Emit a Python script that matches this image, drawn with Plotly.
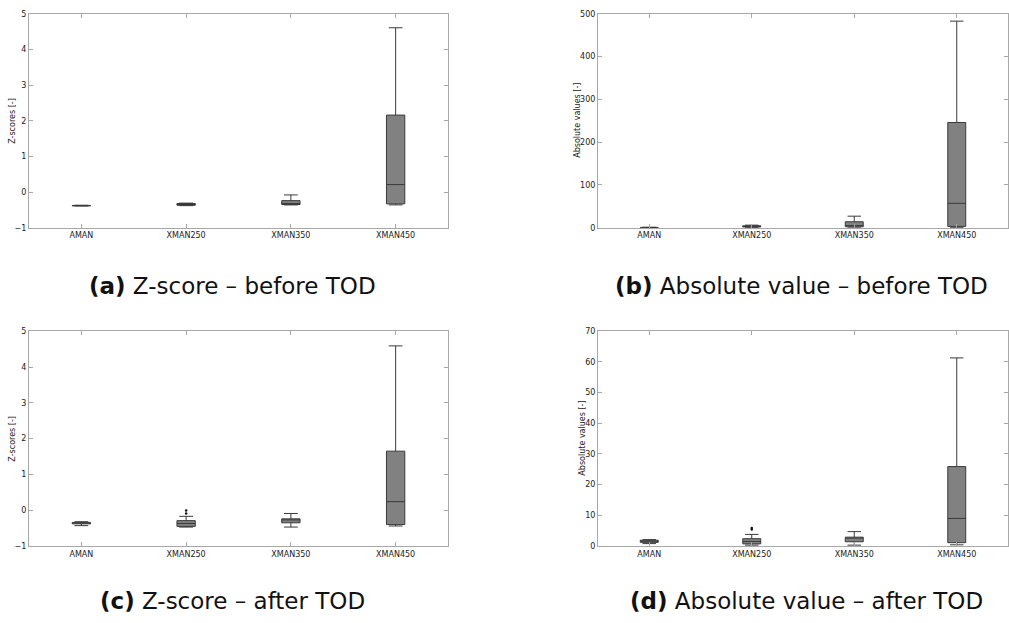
import plotly.graph_objects as go

categories = ["AMAN", "XMAN250", "XMAN350", "XMAN450"]

# (a) Z-score before TOD
a_low = [-0.39, -0.38, -0.36, -0.36]
a_q1 = [-0.385, -0.37, -0.35, -0.33]
a_med = [-0.38, -0.35, -0.33, 0.21]
a_q3 = [-0.375, -0.32, -0.24, 2.16]
a_high = [-0.37, -0.31, -0.08, 4.61]

# (b) Absolute value before TOD
b_low = [0.0, 0.5, 1.0, 0.5]
b_q1 = [0.3, 1.5, 2.0, 3.0]
b_med = [0.5, 3.0, 5.0, 57.0]
b_q3 = [0.8, 4.5, 14.0, 246.0]
b_high = [1.0, 6.0, 27.0, 483.0]

# (c) Z-score after TOD
c_low = [-0.43, -0.47, -0.47, -0.44]
c_q1 = [-0.38, -0.45, -0.35, -0.40]
c_med = [-0.36, -0.37, -0.27, 0.24]
c_q3 = [-0.34, -0.29, -0.24, 1.65]
c_high = [-0.32, -0.17, -0.09, 4.59]
c_out_x = ["XMAN250", "XMAN250"]
c_out_y = [-0.01, -0.09]

# (d) Absolute value after TOD
d_low = [0.8, 0.3, 0.3, 0.4]
d_q1 = [1.2, 0.7, 1.4, 1.1]
d_med = [1.6, 1.5, 2.6, 9.0]
d_q3 = [1.9, 2.4, 2.9, 25.9]
d_high = [2.1, 3.8, 4.7, 61.3]
d_out_x = ["XMAN250", "XMAN250"]
d_out_y = [5.4, 5.9]

captions = ["Z-score – before TOD", "Absolute value – before TOD",
            "Z-score – after TOD", "Absolute value – after TOD"]
letters = ["(a)", "(b)", "(c)", "(d)"]
ytitles = ["Z-scores [-]", "Absolute values [-]", "Z-scores [-]", "Absolute values [-]"]
yranges = [[-1, 5], [0, 500], [-1, 5], [0, 70]]
ydticks = [1, 100, 1, 10]

W, H = 1009, 623
fig = go.Figure()

# pixel boxes of the plot areas: (left, right, top, bottom)
areas = [(29, 448, 10, 227), (598, 1008, 10, 227), (29, 448, 332, 550), (598, 1008, 332, 550)]

data = [
    (a_low, a_q1, a_med, a_q3, a_high, None, None),
    (b_low, b_q1, b_med, b_q3, b_high, None, None),
    (c_low, c_q1, c_med, c_q3, c_high, c_out_x, c_out_y),
    (d_low, d_q1, d_med, d_q3, d_high, d_out_x, d_out_y),
]

tickfont = dict(family="DejaVu Sans", size=8, color="#222222")
frame = "#a8a8a8"

for i, (lo, q1, med, q3, hi, ox, oy) in enumerate(data):
    n = "" if i == 0 else str(i + 1)
    xa, ya = "x" + n, "y" + n
    fig.add_trace(go.Box(
        x=categories, lowerfence=lo, q1=q1, median=med, q3=q3, upperfence=hi,
        xaxis=xa, yaxis=ya, fillcolor="#818181",
        line=dict(color="#3a3a3a", width=1), whiskerwidth=0.75,
        boxpoints=False, showlegend=False, hoverinfo="skip"))
    if ox is not None:
        fig.add_trace(go.Scatter(
            x=ox, y=oy, mode="markers", xaxis=xa, yaxis=ya,
            marker=dict(color="#111111", size=2.5), showlegend=False, hoverinfo="skip"))
    l, r, t, b = areas[i]
    xd = [l / W, r / W]
    yd = [1 - b / H, 1 - t / H]
    fig.layout["xaxis" + n] = dict(
        domain=xd, anchor=ya, type="category", categoryorder="array",
        categoryarray=categories, range=[-0.5, 3.5],
        showgrid=False, zeroline=False, showline=True, linecolor=frame, linewidth=1,
        mirror="ticks", ticks="inside", ticklen=4, tickcolor=frame,
        tickfont=tickfont, fixedrange=True)
    fig.layout["yaxis" + n] = dict(
        domain=yd, anchor=xa, range=yranges[i], dtick=ydticks[i], tick0=0,
        showgrid=False, zeroline=False, showline=True, linecolor=frame, linewidth=1,
        mirror="ticks", ticks="inside", ticklen=4, tickcolor=frame,
        tickfont=tickfont, fixedrange=True)

fig.update_layout(boxgap=0.75)

# y axis titles
ytitle_x = [13, 578, 13, 583]
for i in range(4):
    l, r, t, b = areas[i]
    fig.add_annotation(
        x=ytitle_x[i] / W, y=1 - ((t + b) / 2) / H, xref="paper", yref="paper",
        text=ytitles[i], textangle=-90, showarrow=False,
        font=dict(family="DejaVu Sans", size=8, color="#222222"),
        xanchor="center", yanchor="middle")

# captions
cap_pos = [(232, 286), (801, 286), (232, 606), (806, 606)]
for i in range(4):
    cx, cy = cap_pos[i]
    fig.add_annotation(
        x=cx / W, y=1 - cy / H, xref="paper", yref="paper",
        text="<b>" + letters[i] + "</b> " + captions[i], showarrow=False,
        font=dict(family="DejaVu Sans", size=23, color="#111111"),
        xanchor="center", yanchor="middle")

fig.update_layout(
    width=W, height=H, margin=dict(l=0, r=0, t=0, b=0),
    paper_bgcolor="white", plot_bgcolor="white", showlegend=False)

fig.write_html("out.html", config={"displayModeBar": False},
               post_script="document.body.style.margin='0';document.body.style.overflow='hidden';")
